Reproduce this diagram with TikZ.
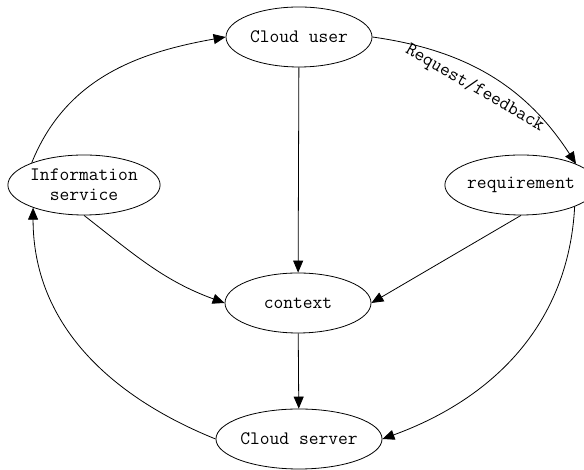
\documentclass[tikz,border=0pt]{standalone}
\usetikzlibrary{shapes.geometric,arrows.meta}
\newcommand{\diafont}{\fontsize{19}{20}\selectfont\ttfamily}

\begin{document}
\begin{tikzpicture}[x=1pt, y=1pt,
      ent/.style={draw, ellipse, minimum width=146pt, minimum height=60pt, inner sep=0pt, align=center, font=\diafont},
      >={Triangle[length=12pt,width=10pt]}, line width=0.8pt
    ]
    \useasboundingbox (0,0) rectangle (584,470);
    \node[ent] (user) at (299,433) {Cloud user};
    \node[ent] (info) at (84,285) {Information\\service};
    \node[ent] (req) at (521,285) {requirement};
    \node[ent] (context) at (298,167) {context};
    \node[ent] (server) at (299,31) {Cloud server};

    \draw[->] (user.east) to[out=-8, in=123]
      node[sloped, below=7pt, pos=0.47, inner sep=2pt, font=\diafont] (reqlbl) {Request/feedback} (req.21);
    \draw[->] (user) -- (context);
    \draw[->] (info.157) to[out=68, in=190] (user.west);
    \draw[->] (info.south) to[out=-38, in=160] (context.west);
    \draw[->] (req.south) -- (context.east);
    \draw[->] (req.-22) to[out=-93, in=20] (server.east);
    \draw[->] (context) -- (server);
    \draw[->] (server.west) to[out=158, in=-90] (info.204);
  \end{tikzpicture}
\end{document}
